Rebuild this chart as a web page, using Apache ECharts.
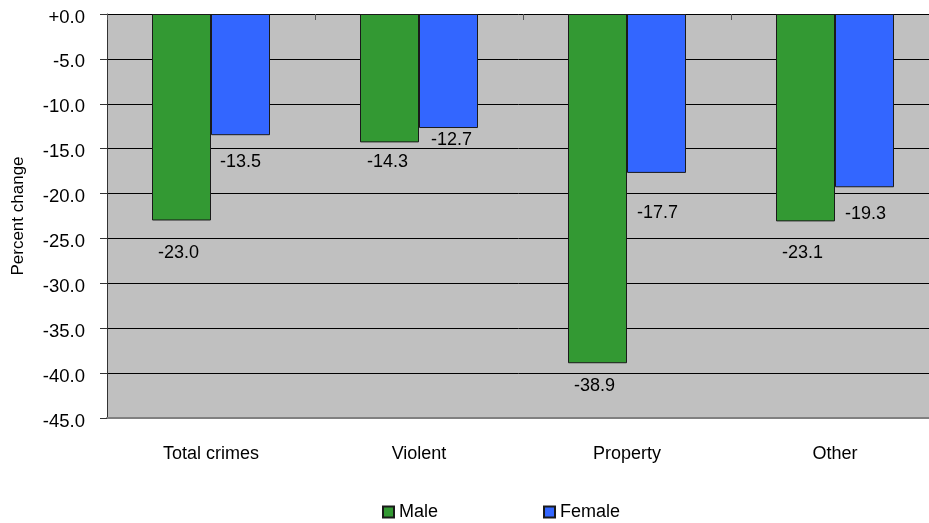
<!DOCTYPE html>
<html>
<head>
<meta charset="utf-8">
<script src="https://cdn.jsdelivr.net/npm/echarts@6/dist/echarts.min.js"></script>
<style>
  html, body { margin: 0; padding: 0; background: #fff; }
  #chart { width: 929px; height: 523px; }
</style>
</head>
<body>
<div id="chart"></div>
<script>
var categories = ['Total crimes', 'Violent', 'Property', 'Other'];
var maleValues = [-23.0, -14.3, -38.9, -23.1];
var femaleValues = [-13.5, -12.7, -17.7, -19.3];

// label nudges, hand-placed like in the original
var maleOffsets = [[-3, 19], [-2, 6], [-3, 9], [-3, 18]];
var femaleOffsets = [[0, 13], [3, -2], [1, 26], [1, 13]];

var chart = echarts.init(document.getElementById('chart'));

function withLabels(values, offsets) {
  return values.map(function (v, i) {
    return { value: v, label: { offset: offsets[i] } };
  });
}

var textFont = 'Liberation Sans';

chart.setOption({
  backgroundColor: '#fff',
  animation: false,
  legend: {
    top: 498,
    left: 377,
    itemWidth: 11,
    itemHeight: 11,
    itemGap: 105,
    icon: 'rect',
    textStyle: { fontFamily: textFont, fontSize: 18, color: '#000' },
    data: ['Male', 'Female']
  },
  grid: {
    left: 107,
    top: 14,
    width: 832,
    bottom: 105,
    outerBoundsMode: 'none',
    show: true,
    backgroundColor: '#c0c0c0',
    borderWidth: 0
  },
  xAxis: [
    {
      type: 'category',
      data: categories,
      position: 'bottom',
      axisLine: { onZero: false, lineStyle: { color: '#808080', width: 2 } },
      axisTick: { show: false },
      axisLabel: { fontFamily: textFont, fontSize: 18, color: '#000', margin: 27 }
    },
    {
      type: 'category',
      data: categories,
      position: 'top',
      axisLine: { show: false },
      axisTick: { show: true, inside: true, length: 6, lineStyle: { color: '#555' } },
      axisLabel: { show: false }
    }
  ],
  yAxis: {
    type: 'value',
    min: -45,
    max: 0,
    interval: 5,
    name: 'Percent change',
    nameLocation: 'middle',
    nameGap: 80,
    nameTextStyle: { fontFamily: textFont, fontSize: 17, color: '#000' },
    axisLine: { show: true, lineStyle: { color: '#333', width: 1 } },
    axisTick: { show: true, length: 7, lineStyle: { color: '#333' } },
    axisLabel: {
      color: '#000',
      margin: 22,
      formatter: function (v) {
        return '{t|' + (v === 0 ? '+0.0' : v.toFixed(1)) + '}';
      },
      rich: {
        t: { fontFamily: textFont, fontSize: 18.5, color: '#000', padding: [7, 0, 0, 0] }
      }
    },
    splitLine: { show: true, lineStyle: { color: '#000', width: 1 } }
  },
  series: [
    {
      name: 'Male',
      type: 'bar',
      barWidth: 59,
      barGap: '0%',
      itemStyle: { color: '#339933', borderColor: '#1a1a1a', borderWidth: 1 },
      label: {
        show: true,
        position: 'bottom',
        fontFamily: textFont,
        fontSize: 18,
        color: '#000',
        formatter: function (p) { return p.value.toFixed(1); }
      },
      data: withLabels(maleValues, maleOffsets)
    },
    {
      name: 'Female',
      type: 'bar',
      barWidth: 59,
      barGap: '0%',
      itemStyle: { color: '#3366ff', borderColor: '#1a1a1a', borderWidth: 1 },
      label: {
        show: true,
        position: 'bottom',
        fontFamily: textFont,
        fontSize: 18,
        color: '#000',
        formatter: function (p) { return p.value.toFixed(1); }
      },
      data: withLabels(femaleValues, femaleOffsets)
    }
  ]
});
</script>
</body>
</html>
